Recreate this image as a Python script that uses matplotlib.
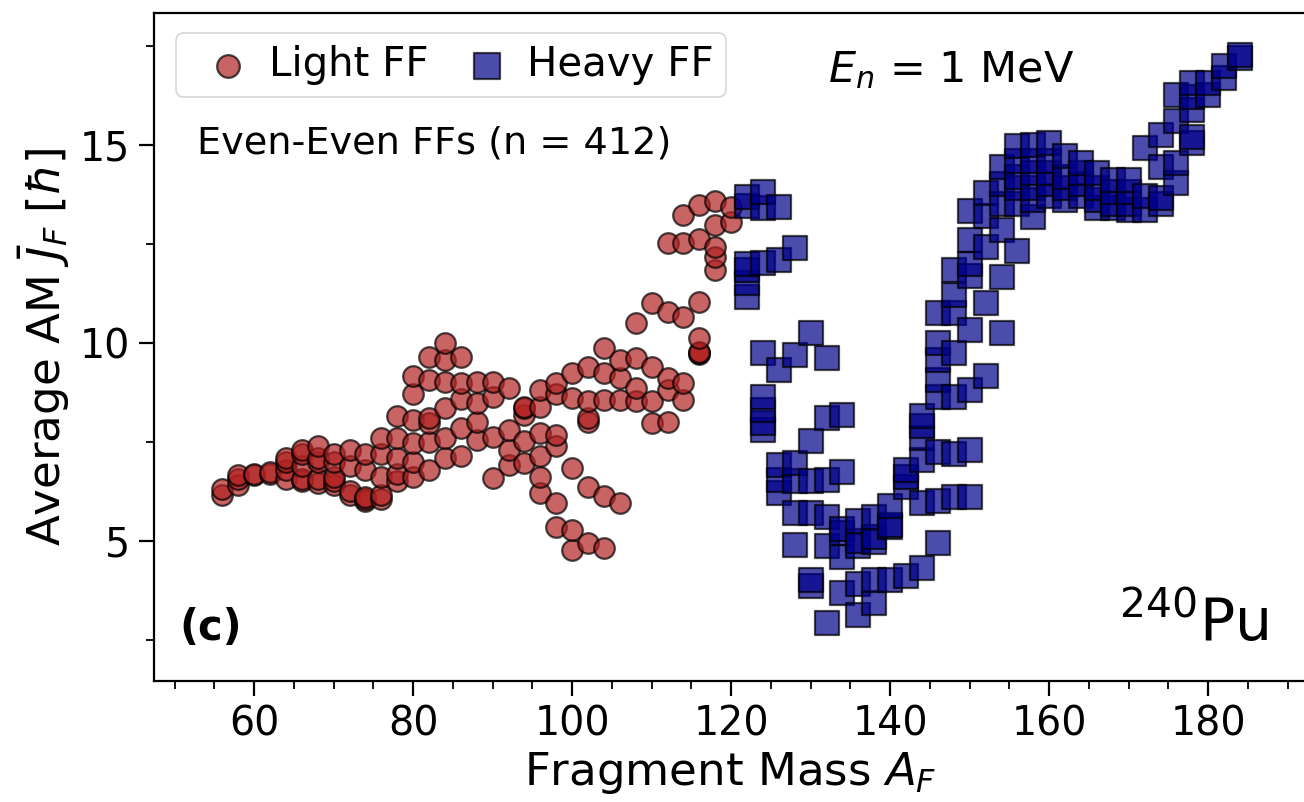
import numpy as np
import matplotlib
matplotlib.use("Agg")
import matplotlib.pyplot as plt
from matplotlib.ticker import MultipleLocator

# average angular momentum per even-even fragment, grouped by fragment mass
LIGHT_A = [56, 58, 60, 62, 64, 66, 68, 70, 72, 74, 76, 78, 80, 82, 84, 86, 88,
           90, 92, 94, 96, 98, 100, 102, 104, 106, 108, 110, 112, 114, 116,
           118, 120]
LIGHT_J = [
    [6.15, 6.3],
    [6.4, 6.55, 6.65],
    [6.65, 6.7],
    [6.7, 6.75],
    [6.55, 6.8, 7.0, 7.1],
    [6.5, 6.55, 6.9, 7.2, 7.3],
    [6.45, 6.55, 7.0, 7.1, 7.4],
    [6.4, 6.5, 6.6, 7.0, 7.2],
    [6.15, 6.25, 6.9, 7.3],
    [6.0, 6.05, 6.1, 6.8, 7.2],
    [6.05, 6.15, 6.6, 7.2, 7.6],
    [6.5, 6.7, 7.1, 7.6, 8.15],
    [6.6, 7.0, 7.47, 8.06, 8.7, 9.15],
    [6.8, 7.5, 7.97, 8.1, 9.05, 9.63],
    [7.09, 7.59, 8.35, 9.0, 9.57, 10.0],
    [7.13, 7.85, 8.58, 8.98, 9.63],
    [7.55, 8.0, 8.49, 9.02],
    [6.58, 7.63, 8.64, 9.02],
    [6.92, 7.30, 7.80, 8.86],
    [6.96, 7.51, 8.18, 8.35, 8.39],
    [6.2, 6.62, 7.13, 7.72, 8.39, 8.81],
    [5.36, 5.95, 7.39, 7.68, 8.7, 8.98],
    [4.77, 5.28, 6.84, 8.6, 9.23],
    [4.94, 6.37, 8.01, 8.1, 8.52, 9.4],
    [4.82, 6.12, 8.56, 9.23, 9.87],
    [5.95, 8.56, 9.11, 9.57],
    [8.52, 8.86, 9.61, 10.5],
    [7.97, 8.52, 9.4, 11.0],
    [8.01, 8.8, 9.11, 10.79, 12.52],
    [8.56, 8.98, 10.66, 12.52, 13.23],
    [9.72, 9.75, 9.78, 10.12, 11.02, 12.62, 13.48],
    [11.84, 12.18, 12.43, 12.98, 13.57],
    [13.06, 13.44],
]

HEAVY_A = [122, 124, 126, 128, 130, 132, 134, 136, 138, 140, 142, 144, 146,
           148, 150, 152, 154, 156, 158, 160, 162, 164, 166, 168, 170, 172,
           174, 176, 178, 180, 182, 184]
HEAVY_J = [
    [11.17, 11.5, 11.84, 12.0, 13.45, 13.69],
    [7.8, 7.97, 8.31, 8.64, 9.74, 12.01, 13.4, 13.82],
    [6.2, 6.54, 6.92, 9.32, 12.1, 13.44],
    [4.9, 5.7, 6.5, 6.96, 9.70, 12.39],
    [3.85, 4.02, 5.7, 6.5, 7.51, 10.24],
    [2.92, 4.86, 5.61, 6.54, 8.1, 9.61],
    [3.68, 4.6, 5.19, 5.3, 6.75, 8.18],
    [3.13, 3.9, 4.86, 5.0, 5.49],
    [3.43, 4.02, 4.98, 5.1, 5.61],
    [4.02, 5.36, 5.4, 5.87],
    [4.1, 6.37, 6.6, 6.79],
    [4.31, 5.95, 7.05, 7.6, 7.89, 8.14],
    [4.94, 6.0, 7.25, 8.64, 9.07, 9.57, 9.99, 10.75],
    [6.1, 7.2, 8.64, 9.74, 10.75, 11.2, 11.84],
    [6.1, 7.3, 8.81, 10.33, 11.7, 12.0, 12.6, 13.32],
    [9.15, 11.0, 12.43, 13.2, 13.78],
    [10.24, 11.67, 12.85, 13.5, 14.0, 14.45],
    [12.31, 13.5, 13.9, 14.2, 14.6, 14.96],
    [13.19, 13.6, 13.9, 14.3, 14.6, 15.0],
    [13.7, 14.0, 14.3, 14.6, 15.04],
    [13.6, 13.9, 14.2, 14.71],
    [13.7, 14.0, 14.3, 14.54],
    [13.4, 13.6, 13.9, 14.28],
    [13.4, 13.5, 13.8, 14.12],
    [13.36, 13.5, 13.8, 14.12],
    [13.36, 13.7, 14.92],
    [13.5, 13.65, 14.45, 15.25],
    [14.03, 14.54, 15.59, 16.26],
    [15.04, 15.2, 15.88, 16.2, 16.56],
    [16.27, 16.56],
    [16.7, 16.98],
    [17.2, 17.27],
]


def flatten(masses, groups):
    xs, ys = [], []
    for a, js in zip(masses, groups):
        xs += [a] * len(js)
        ys += js
    return np.array(xs), np.array(ys)


plt.rcParams["font.family"] = "DejaVu Sans"
plt.rcParams["mathtext.fontset"] = "dejavusans"

fig = plt.figure(figsize=(13.04, 8.02), dpi=100)
ax = fig.add_axes([154 / 1304, 121 / 802, 1152 / 1304, 668 / 802])

lx, ly = flatten(LIGHT_A, LIGHT_J)
hx, hy = flatten(HEAVY_A, HEAVY_J)
ax.scatter(lx, ly, s=220, marker="o", color="firebrick", alpha=0.7,
           edgecolors="k", linewidths=1.6, label="Light FF")
ax.scatter(hx, hy, s=290, marker="s", color="darkblue", alpha=0.7,
           edgecolors="k", linewidths=1.6, label="Heavy FF")

ax.set_xlim(47.4, 192.3)
ax.set_ylim(1.46, 18.33)
ax.xaxis.set_major_locator(MultipleLocator(20))
ax.xaxis.set_minor_locator(MultipleLocator(5))
ax.yaxis.set_major_locator(MultipleLocator(5))
ax.yaxis.set_minor_locator(MultipleLocator(2.5))
ax.tick_params(which="major", length=11, width=1.6, labelsize=28.5, pad=6)
ax.tick_params(which="minor", length=6, width=1.3)
for sp in ax.spines.values():
    sp.set_linewidth(1.6)

ax.set_xlabel("Fragment Mass $A_F$", fontsize=32.5, labelpad=4)
ax.set_ylabel(r"Average AM $\bar{J}_F$ [$\hbar$]", fontsize=32.5, labelpad=6)

leg = ax.legend(loc="upper left", bbox_to_anchor=(0.019, 0.97), ncol=2,
                fontsize=29, markerscale=1.1, handletextpad=0.0,
                columnspacing=0.45, borderaxespad=0, borderpad=0.3,
                frameon=True, fancybox=True)
leg.get_frame().set_edgecolor("#cccccc")
leg.get_frame().set_linewidth(1.2)

ax.text(0.037, 0.805, "Even-Even FFs (n = 412)", transform=ax.transAxes,
        fontsize=27.5, va="center", ha="left")
ax.text(0.585, 0.915, "$E_n$ = 1 MeV", transform=ax.transAxes,
        fontsize=31, va="center", ha="left")
ax.text(0.022, 0.08, "(c)", transform=ax.transAxes, fontsize=30,
        fontweight="bold", va="center", ha="left")
ax.text(0.838, 0.06, "$^{240}$Pu", transform=ax.transAxes, fontsize=42,
        va="baseline", ha="left")

fig.savefig("out.png", dpi=100)
